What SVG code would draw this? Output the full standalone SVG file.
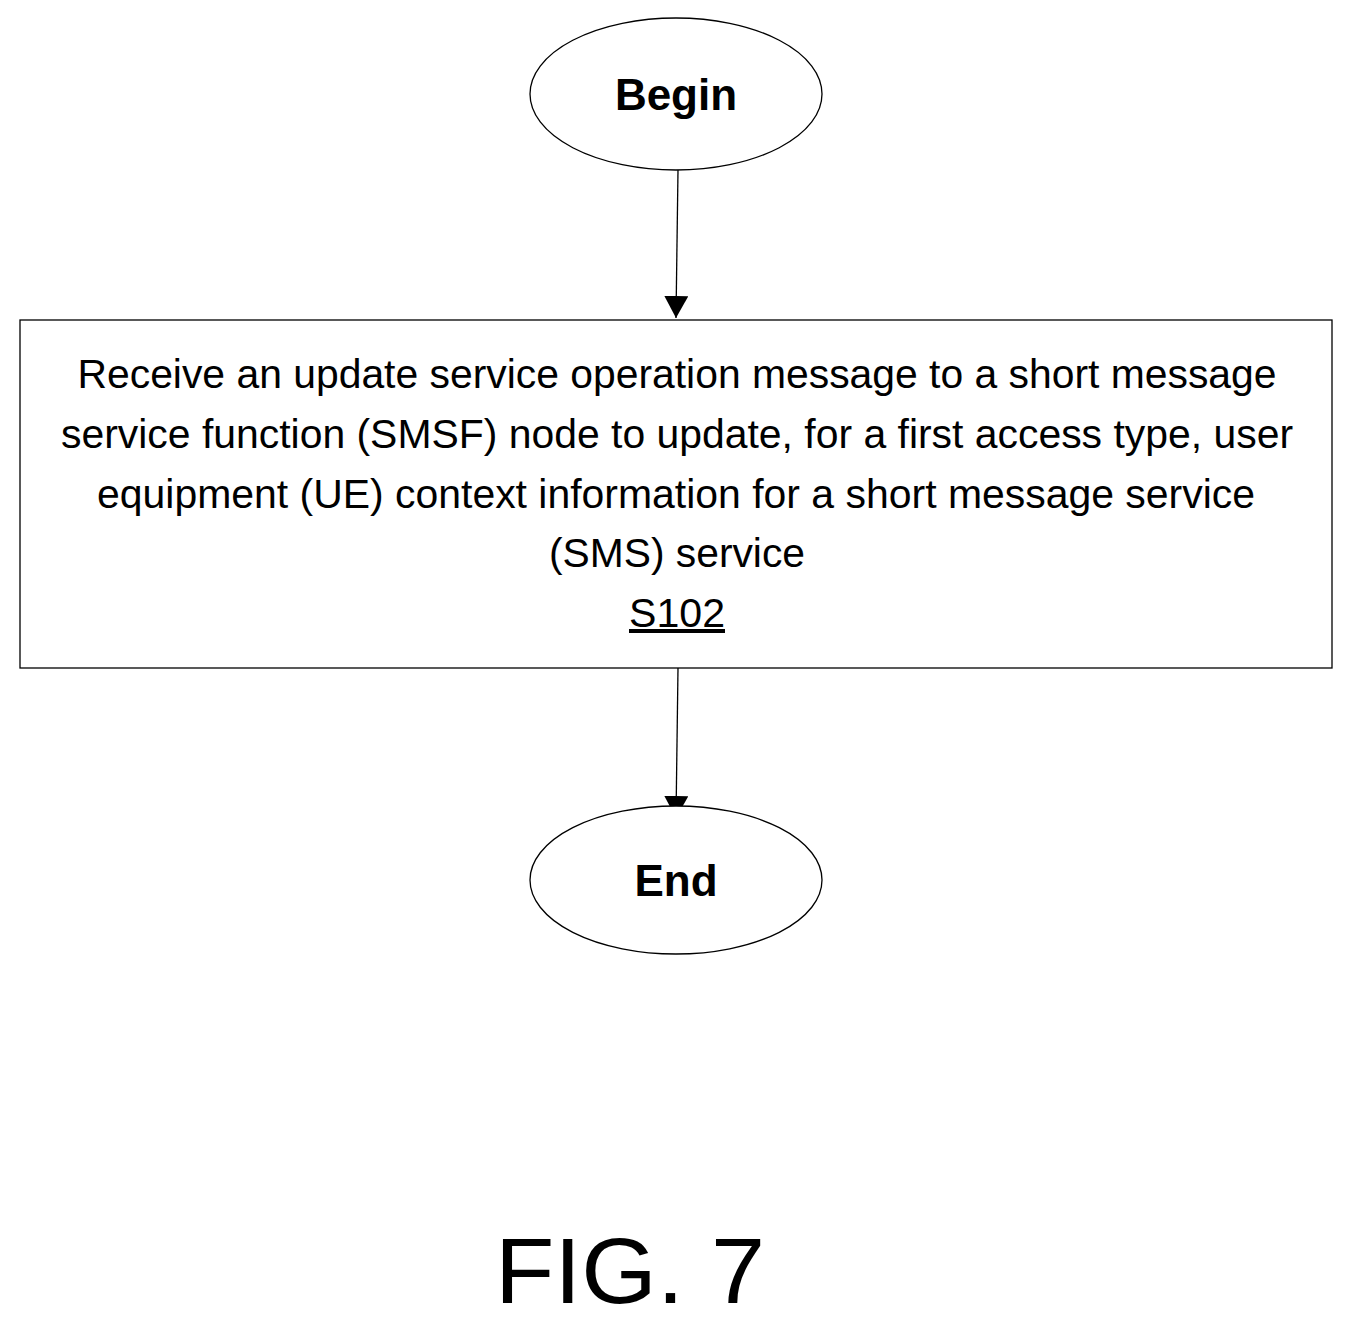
<svg xmlns="http://www.w3.org/2000/svg" width="1353" height="1326" viewBox="0 0 1353 1326">
<style>
.s{fill:#fff;stroke:#000;stroke-width:1.3}
.t{font-family:"Liberation Sans",Arial,sans-serif;font-size:40px;text-anchor:middle}
.b{font-family:"Liberation Sans",Arial,sans-serif;font-size:44px;font-weight:bold;text-anchor:middle}
</style>
<defs><marker id="a" markerWidth="24" markerHeight="34" refX="22" refY="12" orient="auto" markerUnits="userSpaceOnUse"><path d="M0,0 L22,12 L0,24 Z" fill="#000"/></marker></defs>
<rect width="1353" height="1326" fill="#fff"/>
<g id="connectors" stroke="#000" stroke-width="1.3">
<line x1="678" y1="170" x2="676" y2="318" marker-end="url(#a)"/>
<line x1="678" y1="668" x2="676" y2="818" marker-end="url(#a)"/>
</g>
<g id="begin"><ellipse class="s" cx="676" cy="94" rx="146" ry="76"/><text class="b" x="676" y="110">Begin</text></g>
<g id="s102"><rect class="s" x="20" y="320" width="1312" height="348"/>
<text class="t" x="677" y="388" textLength="1199" lengthAdjust="spacingAndGlyphs">Receive an update service operation message to a short message</text>
<text class="t" x="677" y="448" textLength="1232" lengthAdjust="spacingAndGlyphs">service function (SMSF) node to update, for a first access type, user</text>
<text class="t" x="676" y="508" textLength="1158" lengthAdjust="spacingAndGlyphs">equipment (UE) context information for a short message service</text>
<text class="t" x="677" y="567" textLength="256" lengthAdjust="spacingAndGlyphs">(SMS) service</text>
<text class="t" x="677" y="627" textLength="96" lengthAdjust="spacingAndGlyphs" text-decoration="underline">S102</text>
</g>
<g id="end"><ellipse class="s" cx="676" cy="880" rx="146" ry="74"/><text class="b" x="676" y="896">End</text></g>
<text class="t" x="630" y="1303" style="font-size:92px" textLength="270" lengthAdjust="spacingAndGlyphs">FIG. 7</text>
</svg>
